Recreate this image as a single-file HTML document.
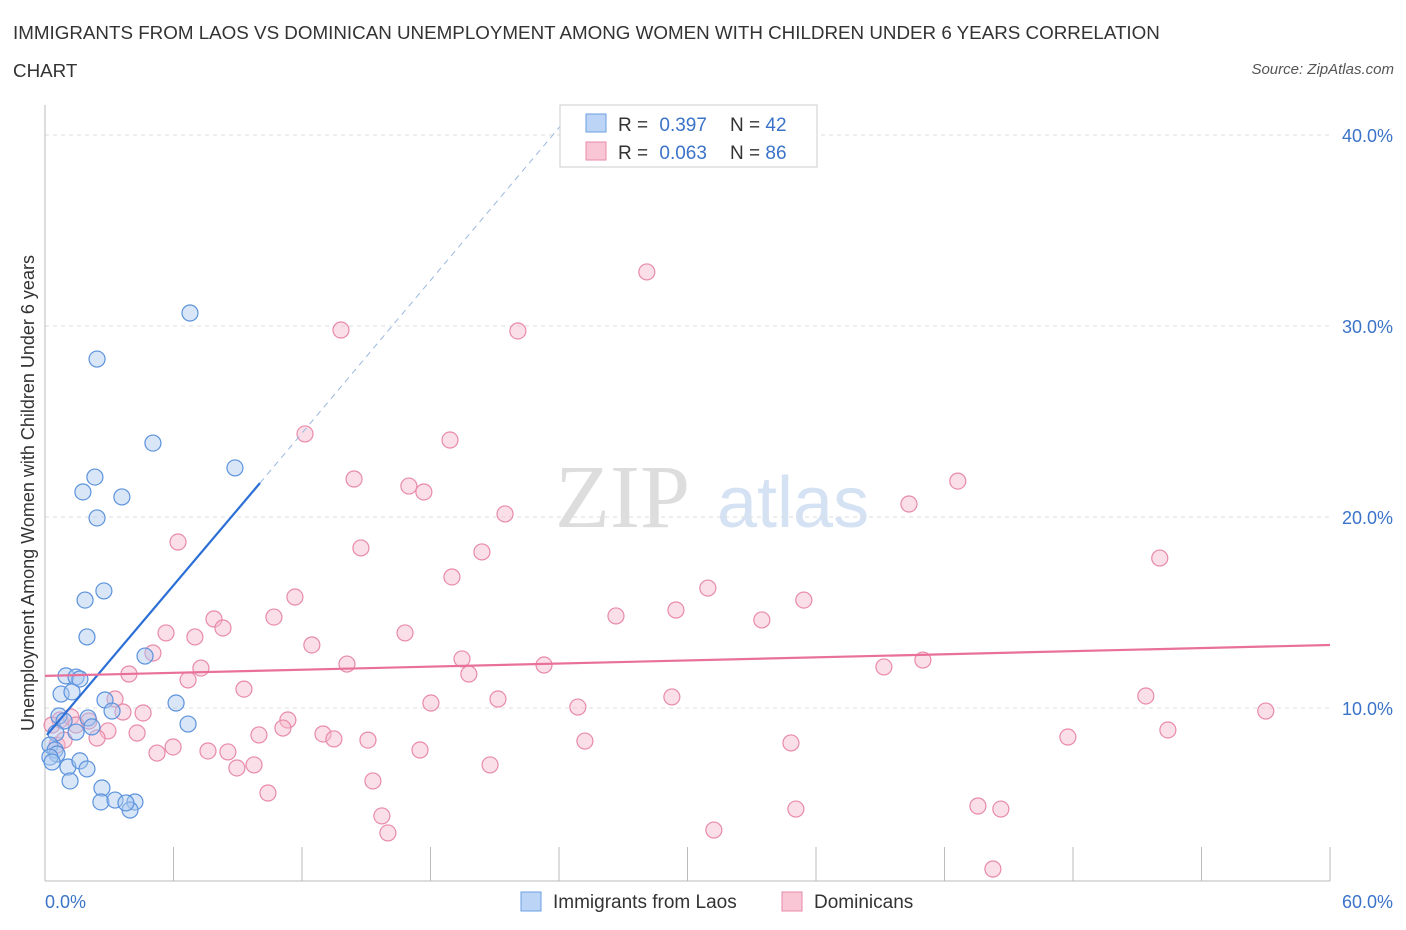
<!DOCTYPE html>
<html><head><meta charset="utf-8"><style>
body{margin:0;background:#fff;font-family:"Liberation Sans",sans-serif}
#c{position:relative;width:1406px;height:930px}
.t{position:absolute;color:#333;font-size:18px}
</style></head><body><div id="c">
<div class="t" style="left:13px;top:22px;font-size:18.8px">IMMIGRANTS FROM LAOS VS DOMINICAN UNEMPLOYMENT AMONG WOMEN WITH CHILDREN UNDER 6 YEARS CORRELATION</div>
<div class="t" style="left:13px;top:60px;font-size:18.8px">CHART</div>
<div class="t" style="right:12px;top:61px;font-size:15px;font-style:italic;color:#555">Source: ZipAtlas.com</div>
<svg id="s" width="1406" height="930" style="position:absolute;left:0;top:0"></svg>
</div>
<script>
const blueX=[6.77,2.43,5.04,8.87,2.33,1.77,3.59,2.43,2.75,1.87,1.96,4.67,0.98,1.45,1.63,0.75,1.26,2.80,6.12,3.13,0.65,2.01,0.89,6.68,2.19,1.45,0.51,0.23,0.47,0.56,0.23,0.33,1.07,1.63,1.96,1.17,2.66,2.61,3.27,4.20,3.97,3.78];
const blueY=[30.68,28.27,23.87,22.57,22.09,21.31,21.05,19.95,16.13,15.65,13.72,12.72,11.68,11.62,11.52,10.73,10.84,10.42,10.26,9.84,9.58,9.48,9.32,9.16,9.01,8.74,8.69,8.06,7.80,7.59,7.43,7.17,6.91,7.23,6.81,6.18,5.81,5.08,5.18,5.08,4.66,5.03];
const pinkX=[28.10,13.82,22.08,12.14,18.91,14.43,16.99,17.69,42.62,21.48,40.34,6.21,14.75,20.40,19.00,52.05,30.95,11.67,29.46,26.66,35.43,10.69,7.89,33.47,8.31,5.65,7.00,16.81,12.46,5.04,19.47,14.10,23.30,7.28,3.92,19.79,6.68,39.17,40.99,9.29,29.27,51.40,21.15,3.27,18.02,24.88,57.00,4.58,3.64,11.34,0.70,1.21,2.05,11.11,12.98,13.49,9.99,4.30,2.94,2.43,15.08,52.43,47.76,25.21,34.83,5.98,5.23,7.61,8.54,17.51,9.76,8.96,20.78,15.31,10.41,43.56,44.63,35.06,15.73,31.23,16.01,44.26,0.56,0.33,0.89,1.45];
const pinkY=[32.83,29.79,29.74,24.35,24.03,21.99,21.62,21.31,21.88,20.16,20.68,18.69,18.38,18.17,16.86,17.85,16.28,15.81,15.13,14.82,15.65,14.76,14.66,14.61,14.19,13.93,13.72,13.93,13.30,12.88,12.57,12.30,12.25,12.09,11.78,11.78,11.47,12.15,12.51,10.99,10.58,10.63,10.47,10.47,10.26,10.05,9.84,9.74,9.79,9.37,9.37,9.53,9.32,8.95,8.64,8.38,8.59,8.69,8.80,8.43,8.32,8.85,8.48,8.27,8.17,7.96,7.64,7.75,7.70,7.80,7.02,6.86,7.02,6.18,5.55,4.87,4.71,4.71,4.35,3.61,3.46,1.57,8.06,9.11,8.32,9.11];
const blueLine=[0.09,8.59,10.04,21.78,24.5,41.05];
const pinkLine=[0,11.68,60,13.30];
const yTicks=[10,20,30,40];
const yLabels=["10.0%","20.0%","30.0%","40.0%"];
const xTicks=[0,6,12,18,24,30,36,42,48,54,60];
const X=v=>45+v*21.417, Y=v=>899-v*19.1;
const s=document.getElementById('s');const NS='http://www.w3.org/2000/svg';
function el(t,a,p){const e=document.createElementNS(NS,t);for(const k in a)e.setAttribute(k,a[k]);(p||s).appendChild(e);return e;}
let w=el('text',{x:555,y:527,'font-size':90,'font-family':'Liberation Serif',fill:'#ddd'});w.textContent='ZIP';


w=el('text',{x:717,y:527,'font-size':72,'font-family':'Liberation Sans',fill:'#d5e2f3'});w.textContent='atlas';


yTicks.forEach((v,i)=>{let g=el('line',{x1:45,x2:1330,y1:Y(v),y2:Y(v),stroke:'#ddd','stroke-dasharray':'4,4'});


let t=el('text',{x:1393,y:Y(v)+7,'text-anchor':'end','font-size':18,fill:'#3b73c8'});t.textContent=yLabels[i];

});
el('line',{x1:45,x2:45,y1:105,y2:881,stroke:'#bbb'});
el('line',{x1:45,x2:1330,y1:881,y2:881,stroke:'#bbb'});
xTicks.forEach(v=>{let l=el('line',{x1:X(v),x2:X(v),y1:847,y2:881,stroke:'#bbb'});

});
let t=el('text',{x:45,y:908,'font-size':18,fill:'#3b73c8'});t.textContent='0.0%';

t=el('text',{x:1393,y:908,'font-size':18,fill:'#3b73c8','text-anchor':'end'});t.textContent='60.0%';

t=el('text',{x:0,y:0,'font-size':18,fill:'#333','text-anchor':'middle',transform:'translate(34,493) rotate(-90)'});t.textContent='Unemployment Among Women with Children Under 6 years';

function pts(xs,ys,f,st,n){xs.forEach((x,i)=>{const c=el('circle',{cx:X(x),cy:Y(ys[i]),r:8,fill:f,'fill-opacity':0.45,stroke:st,'stroke-width':1.2});

});}
pts(pinkX,pinkY,'#f7b9cd','#e88aa8','dominicans-point');
pts(blueX,blueY,'#a9c8f0','#5b92dc','laos-point');
let L=el('line',{x1:X(blueLine[0]),y1:Y(blueLine[1]),x2:X(blueLine[2]),y2:Y(blueLine[3]),stroke:'#2b6fd6','stroke-width':2.2});

L=el('line',{x1:X(blueLine[2]),y1:Y(blueLine[3]),x2:X(blueLine[4]),y2:Y(blueLine[5]),stroke:'#9bb8e0','stroke-width':1,'stroke-dasharray':'6,5'});

L=el('line',{x1:X(pinkLine[0]),y1:Y(pinkLine[1]),x2:X(pinkLine[2]),y2:Y(pinkLine[3]),stroke:'#e8709a','stroke-width':2.2});

let g=el('g',{});
el('rect',{x:560,y:105,width:257,height:62,fill:'#fff',stroke:'#ccc'},g);
el('rect',{x:586,y:114,width:20,height:18,fill:'#bcd4f5',stroke:'#6a9fe0'},g);
el('rect',{x:586,y:142,width:20,height:18,fill:'#f9c6d6',stroke:'#e88aa8'},g);
[['R = ','0.397','N = ','42',131],['R = ','0.063','N = ','86',159]].forEach(r=>{
let a=el('text',{x:618,y:r[4],'font-size':19,fill:'#333'},g);a.innerHTML=r[0]+'<tspan dx="6" fill="#3b73c8">'+r[1]+'</tspan>';
let b=el('text',{x:730,y:r[4],'font-size':19,fill:'#333'},g);b.innerHTML=r[2]+'<tspan fill="#3b73c8">'+r[3]+'</tspan>';});
let b=el('g',{});
el('rect',{x:521,y:892,width:20,height:19,fill:'#bcd4f5',stroke:'#6a9fe0'},b);
t=el('text',{x:553,y:908,'font-size':19,fill:'#333'},b);t.textContent='Immigrants from Laos';
el('rect',{x:782,y:892,width:20,height:19,fill:'#f9c6d6',stroke:'#e88aa8'},b);
t=el('text',{x:814,y:908,'font-size':19,fill:'#333'},b);t.textContent='Dominicans';
</script></body></html>
